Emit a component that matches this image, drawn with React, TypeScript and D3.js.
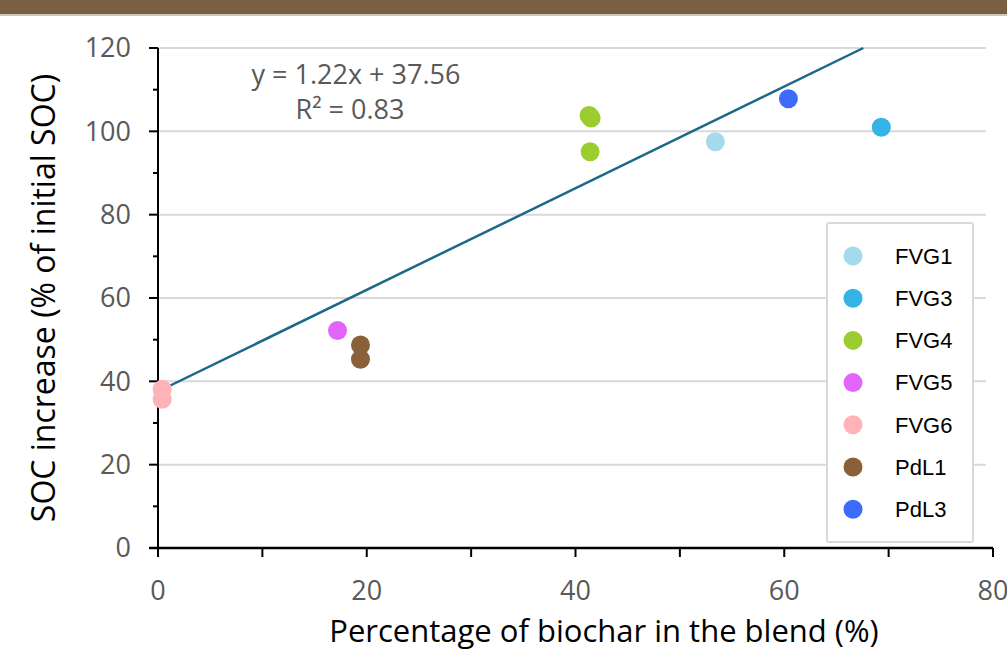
import React, { useEffect, useRef } from 'react';
import * as d3 from 'd3';

const W = 1007;
const H = 651;

const seriesNames = ['FVG1', 'FVG3', 'FVG4', 'FVG5', 'FVG6', 'PdL1', 'PdL3'];
const seriesColors = ['#a4daec', '#33b3e6', '#9bcc30', '#e264fb', '#ffb3b8', '#8a6039', '#3d6bfb'];

// [series, biochar %, SOC increase %]
const points: [string, number, number][] = [
  ['FVG6', 0.4, 38.1],
  ['FVG6', 0.4, 35.7],
  ['FVG5', 17.2, 52.2],
  ['PdL1', 19.4, 48.7],
  ['PdL1', 19.4, 45.3],
  ['FVG4', 41.3, 103.8],
  ['FVG4', 41.5, 103.2],
  ['FVG4', 41.4, 95.1],
  ['FVG1', 53.4, 97.5],
  ['PdL3', 60.4, 107.8],
  ['FVG3', 69.3, 101.0],
];

const slope = 1.22;
const intercept = 37.56;
const yTicks = [0, 20, 40, 60, 80, 100, 120];
const xTicks = [0, 20, 40, 60, 80];

export default function App() {
  const ref = useRef<SVGSVGElement>(null);

  useEffect(() => {
    if (!ref.current) return;
    const svg = d3.select(ref.current);
    svg.selectAll('*').remove();

    const x = d3.scaleLinear().domain([0, 80]).range([158, 993]);
    const y = d3.scaleLinear().domain([0, 120]).range([548, 48]);
    const font = '"Open Sans", "Noto Sans", sans-serif';

    svg.append('rect').attr('width', W).attr('height', H).attr('fill', '#fff');
    // top band
    svg.append('rect').attr('width', W).attr('height', 14).attr('fill', '#7a5f44');
    svg.append('rect').attr('y', 14).attr('width', W).attr('height', 2).attr('fill', '#cfc6b8');

    // gridlines
    svg.append('g')
      .selectAll('line')
      .data(yTicks.filter((d) => d > 0))
      .join('line')
      .attr('x1', x(0))
      .attr('x2', 986)
      .attr('y1', (d) => y(d))
      .attr('y2', (d) => y(d))
      .attr('stroke', '#d9d9d9')
      .attr('stroke-width', 2);

    // y axis
    const yAxis = svg.append('g');
    yAxis.append('line')
      .attr('x1', x(0)).attr('x2', x(0))
      .attr('y1', y(120)).attr('y2', y(0))
      .attr('stroke', '#000').attr('stroke-width', 2);
    yAxis.selectAll('line.tick')
      .data(d3.range(0, 121, 10))
      .join('line')
      .attr('class', 'tick')
      .attr('x1', (d) => x(0) - (d % 20 === 0 ? 9 : 5)).attr('x2', x(0))
      .attr('y1', (d) => y(d)).attr('y2', (d) => y(d))
      .attr('stroke', '#000').attr('stroke-width', 2);
    yAxis.selectAll('text')
      .data(yTicks)
      .join('text')
      .attr('x', 131)
      .attr('y', (d) => y(d))
      .attr('dy', '0.35em')
      .attr('text-anchor', 'end')
      .attr('fill', '#595959')
      .attr('font-family', font)
      .attr('font-size', 27)
      .text((d) => d);

    // x axis
    const xAxis = svg.append('g');
    xAxis.append('line')
      .attr('x1', x(0) - 9).attr('x2', x(80))
      .attr('y1', y(0)).attr('y2', y(0))
      .attr('stroke', '#000').attr('stroke-width', 2.5);
    xAxis.selectAll('line.tick')
      .data(d3.range(0, 81, 10))
      .join('line')
      .attr('class', 'tick')
      .attr('x1', (d) => x(d)).attr('x2', (d) => x(d))
      .attr('y1', y(0)).attr('y2', y(0) + 9)
      .attr('stroke', '#000').attr('stroke-width', 2);
    xAxis.selectAll('text')
      .data(xTicks)
      .join('text')
      .attr('x', (d) => x(d))
      .attr('y', 591)
      .attr('dy', '0.35em')
      .attr('text-anchor', 'middle')
      .attr('fill', '#595959')
      .attr('font-family', font)
      .attr('font-size', 27)
      .text((d) => d);

    // axis titles
    svg.append('text')
      .attr('transform', `translate(44, ${y(60)}) rotate(-90)`)
      .attr('dy', '0.35em')
      .attr('text-anchor', 'middle')
      .attr('fill', '#000')
      .attr('font-family', font)
      .attr('font-size', 32)
      .text('SOC increase (% of initial SOC)');
    svg.append('text')
      .attr('x', 604)
      .attr('y', 631)
      .attr('dy', '0.35em')
      .attr('text-anchor', 'middle')
      .attr('fill', '#000')
      .attr('font-family', font)
      .attr('font-size', 31)
      .text('Percentage of biochar in the blend (%)');

    // trend line
    const xEnd = (120 - intercept) / slope;
    svg.append('line')
      .attr('x1', x(0)).attr('y1', y(intercept))
      .attr('x2', x(xEnd)).attr('y2', y(120))
      .attr('stroke', '#1b6889')
      .attr('stroke-width', 2.5);

    // points
    const color = d3.scaleOrdinal<string, string>().domain(seriesNames).range(seriesColors);
    svg.append('g')
      .selectAll('circle')
      .data(points)
      .join('circle')
      .attr('cx', (d) => x(d[1]))
      .attr('cy', (d) => y(d[2]))
      .attr('r', 9.5)
      .attr('fill', (d) => color(d[0]));

    // equation
    svg.append('text')
      .attr('x', 356).attr('y', 75)
      .attr('dy', '0.35em')
      .attr('text-anchor', 'middle')
      .attr('fill', '#595959')
      .attr('font-family', font)
      .attr('font-size', 27)
      .text(`y = ${slope}x + ${intercept}`);
    svg.append('text')
      .attr('x', 350).attr('y', 110)
      .attr('dy', '0.35em')
      .attr('text-anchor', 'middle')
      .attr('fill', '#595959')
      .attr('font-family', font)
      .attr('font-size', 27)
      .text('R² = 0.83');

    // legend
    const lg = svg.append('g');
    lg.append('rect')
      .attr('x', 827).attr('y', 223)
      .attr('width', 146).attr('height', 319)
      .attr('rx', 2)
      .attr('fill', '#fff')
      .attr('stroke', '#d9d9d9')
      .attr('stroke-width', 2);
    const rows = lg.selectAll('g.row')
      .data(seriesNames)
      .join('g')
      .attr('class', 'row')
      .attr('transform', (_, i) => `translate(0, ${256 + i * 42.2})`);
    rows.append('circle')
      .attr('cx', 853).attr('cy', 0).attr('r', 9.5)
      .attr('fill', (d) => color(d));
    rows.append('text')
      .attr('x', 895).attr('y', 0)
      .attr('dy', '0.35em')
      .attr('fill', '#000')
      .attr('font-family', '"Liberation Sans", Arial, sans-serif')
      .attr('font-size', 22)
      .text((d) => d);
  }, []);

  return (
    <svg
      ref={ref}
      width={W}
      height={H}
      style={{ position: 'absolute', left: 0, top: 0 }}
    />
  );
}
